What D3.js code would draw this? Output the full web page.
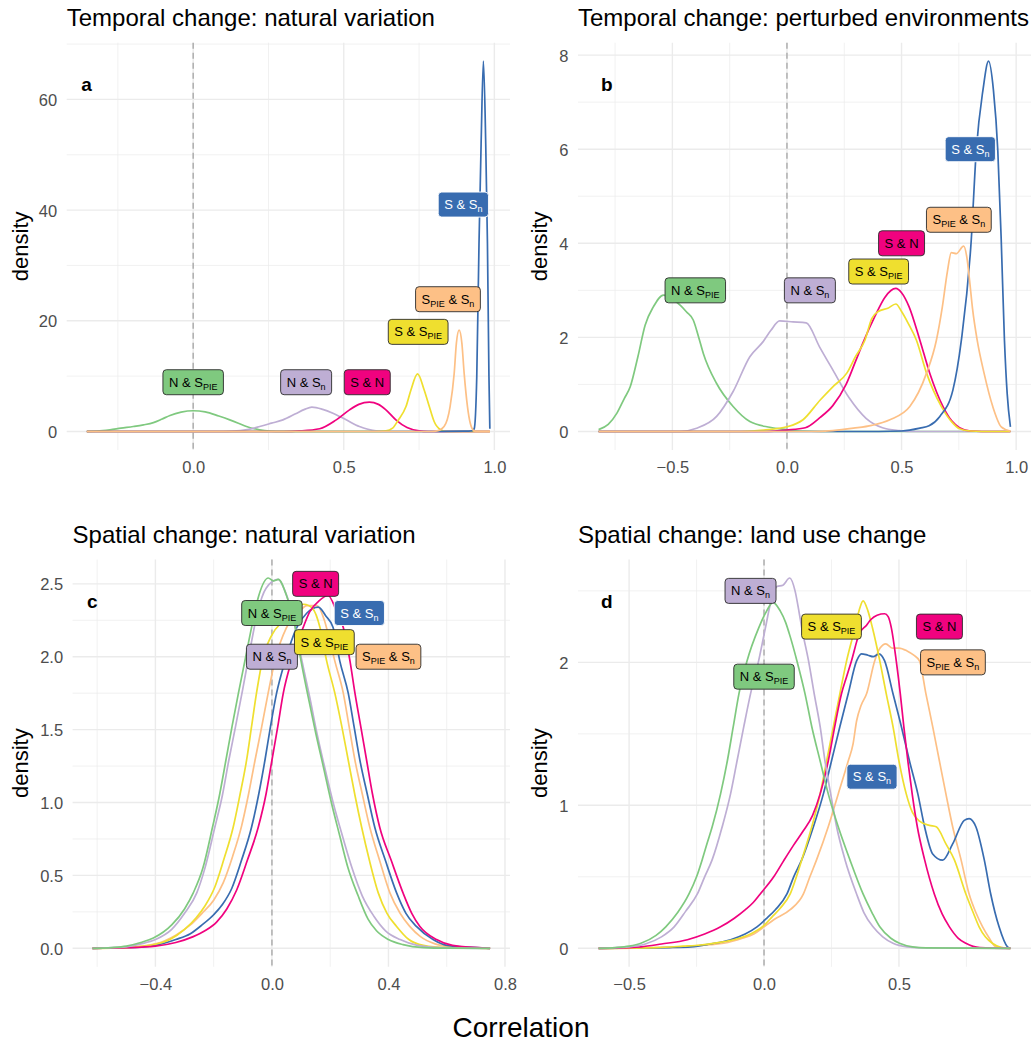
<!DOCTYPE html>
<html>
<head>
<meta charset="utf-8">
<script src="https://cdn.jsdelivr.net/npm/d3@7"></script>
<style>
  body { margin: 0; background: #fff; }
  svg text { font-family: "Liberation Sans", Arial, Helvetica, sans-serif; }
</style>
</head>
<body>
<svg id="fig" width="1032" height="1045"></svg>
<script>
// ---- series (pairs of diversity metrics); "_X" marks a subscript ----
const seriesKeys   = ["N & S_PIE", "N & S_n", "S & N", "S & S_PIE", "S & S_n", "S_PIE & S_n"];
const seriesColors = ["#7FC97F", "#BEAED4", "#F0027F", "#EFDF2F", "#386CB0", "#FDC086"];
const labelInk     = ["#000", "#000", "#000", "#000", "#fff", "#000"];

const panelTitles  = ["Temporal change: natural variation", "Temporal change: perturbed environments",
                      "Spatial change: natural variation", "Spatial change: land use change"];
const panelLetters = ["a", "b", "c", "d"];

// ---- panel a: density of correlations ----
const a_NSpie = [[-0.353,0.02],[-0.30,0.15],[-0.276,0.3],[-0.24,0.6],[-0.199,0.9],[-0.165,1.2],[-0.132,1.6],[-0.105,2.2],[-0.077,2.9],[-0.04,3.5],[0.0,3.75],[0.04,3.55],[0.085,2.8],[0.1215,2.1],[0.15,1.5],[0.177,0.9],[0.22,0.3],[0.254,0.08],[0.30,0.01],[0.40,0],[0.985,0]];
const a_NSn   = [[-0.353,0],[0.10,0],[0.132,0.05],[0.18,0.35],[0.221,0.9],[0.26,1.5],[0.298,2.1],[0.34,3.2],[0.37,4.0],[0.394,4.4],[0.43,4.0],[0.464,3.3],[0.508,2.1],[0.552,0.9],[0.58,0.4],[0.607,0.1],[0.65,0],[0.985,0]];
const a_SN    = [[-0.353,0],[0.30,0],[0.353,0.1],[0.42,0.5],[0.475,2.1],[0.519,3.9],[0.55,4.9],[0.585,5.3],[0.615,4.9],[0.64,3.9],[0.673,2.1],[0.71,0.7],[0.75,0.1],[0.78,0],[0.985,0]];
const a_SSpie = [[-0.353,0],[0.60,0],[0.64,0.1],[0.662,0.6],[0.68,2.0],[0.7066,4.5],[0.723,7.5],[0.745,10.4],[0.767,7.5],[0.784,4.5],[0.80,1.8],[0.822,0.3],[0.84,0],[0.985,0]];
const a_SSn   = [[-0.353,0],[0.80,0],[0.90,0.05],[0.925,0.1],[0.933,0.5],[0.9416,10],[0.949,34],[0.956,52],[0.9636,66.9],[0.9713,52],[0.977,34],[0.982,10],[0.985,0.5]];
const a_SpieSn= [[-0.353,0],[0.79,0],[0.81,0.1],[0.833,0.9],[0.853,4.5],[0.8666,10.5],[0.874,16],[0.883,18.3],[0.892,16],[0.8997,10.5],[0.9107,4.5],[0.92,1.5],[0.933,0.1],[0.94,0],[0.985,0]];
const a_labelX = [0.0, 0.375, 0.578, 0.747, 0.897, 0.846];
const a_labelY = [8.9, 8.9, 8.9, 18.0, 41.0, 23.9];
const a_xTicks = [0, 0.5, 1.0];
const a_yTicks = [0, 20, 40, 60];

// ---- panel b ----
const b_NSpie = [[-0.822,0.04],[-0.78,0.15],[-0.742,0.39],[-0.71,0.7],[-0.684,0.95],[-0.65,1.6],[-0.619,2.26],[-0.583,2.65],[-0.539,2.9],[-0.496,2.8],[-0.465,2.68],[-0.438,2.54],[-0.409,2.37],[-0.385,2.0],[-0.365,1.66],[-0.307,1.02],[-0.235,0.53],[-0.162,0.21],[-0.075,0.09],[0.0,0.04],[0.055,0.01],[0.15,0],[0.975,0]];
const b_NSn   = [[-0.822,0],[-0.467,0],[-0.394,0.07],[-0.307,0.32],[-0.235,0.85],[-0.162,1.59],[-0.104,1.91],[-0.07,2.15],[-0.032,2.35],[0.026,2.33],[0.084,2.31],[0.142,1.8],[0.2,1.31],[0.272,0.71],[0.345,0.28],[0.417,0.08],[0.49,0.02],[0.56,0],[0.975,0]];
const b_SN    = [[-0.822,0],[-0.10,0],[0.0,0.03],[0.08,0.08],[0.145,0.3],[0.20,0.55],[0.258,1.0],[0.30,1.5],[0.333,1.9],[0.384,2.45],[0.427,2.85],[0.475,3.04],[0.50,2.95],[0.533,2.65],[0.58,1.94],[0.623,1.24],[0.681,0.53],[0.72,0.22],[0.753,0.08],[0.80,0.01],[0.85,0],[0.975,0]];
const b_SSpie = [[-0.822,0],[-0.20,0],[-0.10,0.03],[0.0,0.1],[0.07,0.25],[0.145,0.67],[0.20,0.95],[0.261,1.24],[0.30,1.6],[0.34,1.94],[0.37,2.4],[0.398,2.55],[0.44,2.62],[0.475,2.71],[0.50,2.55],[0.529,2.3],[0.565,1.94],[0.609,1.24],[0.674,0.53],[0.72,0.2],[0.753,0.06],[0.80,0.01],[0.85,0],[0.975,0]];
const b_SSn   = [[-0.822,0],[0.40,0],[0.50,0.01],[0.58,0.07],[0.62,0.12],[0.667,0.32],[0.724,0.88],[0.761,1.94],[0.804,4.06],[0.826,5.97],[0.855,7.25],[0.8796,7.87],[0.901,7.25],[0.92,5.97],[0.935,4.06],[0.949,1.94],[0.961,0.8],[0.975,0.1]];
const b_SpieSn= [[-0.822,0],[0.10,0],[0.20,0.02],[0.29,0.07],[0.37,0.13],[0.449,0.25],[0.536,0.53],[0.609,1.24],[0.652,1.94],[0.678,2.65],[0.70,3.4],[0.717,3.8],[0.739,3.78],[0.771,3.94],[0.785,3.7],[0.797,3.2],[0.81,2.6],[0.83,1.94],[0.86,1.24],[0.898,0.53],[0.935,0.1],[0.975,0.01]];
const b_labelX = [-0.40, 0.10, 0.50, 0.40, 0.80, 0.75];
const b_labelY = [3.0, 3.0, 4.0, 3.4, 6.0, 4.5];
const b_xTicks = [-0.5, 0, 0.5, 1.0];
const b_yTicks = [0, 2, 4, 6, 8];

// ---- panel c ----
const c_NSpie = [[-0.616,0],[-0.55,0.005],[-0.50,0.015],[-0.45,0.04],[-0.407,0.07],[-0.344,0.16],[-0.30,0.27],[-0.27,0.38],[-0.237,0.55],[-0.204,0.83],[-0.18,1.05],[-0.158,1.29],[-0.137,1.52],[-0.115,1.75],[-0.09,2.0],[-0.07,2.2],[-0.045,2.42],[-0.0126,2.54],[0.005,2.52],[0.0217,2.53],[0.05,2.42],[0.08,2.2],[0.10,1.97],[0.125,1.72],[0.15,1.48],[0.176,1.25],[0.204,1.0],[0.233,0.77],[0.26,0.56],[0.296,0.36],[0.33,0.2],[0.359,0.12],[0.40,0.06],[0.45,0.025],[0.52,0.005],[0.60,0.001],[0.749,0]];
const c_NSn   = [[-0.616,0],[-0.50,0.01],[-0.45,0.03],[-0.40,0.06],[-0.344,0.13],[-0.30,0.24],[-0.258,0.38],[-0.23,0.55],[-0.196,0.83],[-0.17,1.05],[-0.148,1.29],[-0.125,1.52],[-0.10,1.78],[-0.075,2.05],[-0.05,2.3],[-0.02,2.47],[0.022,2.53],[0.045,2.45],[0.075,2.25],[0.10,2.0],[0.13,1.72],[0.155,1.47],[0.18,1.25],[0.21,1.0],[0.245,0.75],[0.275,0.55],[0.31,0.36],[0.35,0.22],[0.39,0.12],[0.44,0.06],[0.50,0.02],[0.58,0.005],[0.749,0]];
const c_SN    = [[-0.616,0],[-0.50,0.004],[-0.40,0.015],[-0.33,0.04],[-0.27,0.08],[-0.23,0.12],[-0.19,0.18],[-0.155,0.27],[-0.121,0.4],[-0.085,0.6],[-0.047,0.83],[-0.02,1.06],[0.0,1.29],[0.02,1.52],[0.039,1.75],[0.067,1.97],[0.107,2.2],[0.13,2.31],[0.16,2.38],[0.193,2.42],[0.222,2.31],[0.245,2.2],[0.268,1.97],[0.285,1.75],[0.305,1.52],[0.325,1.29],[0.345,1.06],[0.37,0.83],[0.41,0.6],[0.45,0.38],[0.48,0.24],[0.508,0.15],[0.565,0.06],[0.62,0.02],[0.749,0]];
const c_SSpie = [[-0.616,0],[-0.50,0.005],[-0.42,0.02],[-0.35,0.06],[-0.30,0.13],[-0.26,0.21],[-0.23,0.29],[-0.196,0.42],[-0.165,0.61],[-0.133,0.83],[-0.11,1.05],[-0.087,1.29],[-0.07,1.52],[-0.053,1.75],[-0.03,2.0],[0.0,2.15],[0.04,2.25],[0.08,2.33],[0.11,2.36],[0.14,2.33],[0.165,2.2],[0.188,1.97],[0.216,1.75],[0.24,1.52],[0.262,1.29],[0.285,1.05],[0.308,0.83],[0.335,0.6],[0.365,0.38],[0.395,0.24],[0.428,0.15],[0.47,0.06],[0.52,0.02],[0.60,0.004],[0.749,0]];
const c_SSn   = [[-0.616,0],[-0.50,0.004],[-0.40,0.02],[-0.33,0.06],[-0.28,0.1],[-0.24,0.16],[-0.20,0.23],[-0.17,0.3],[-0.138,0.41],[-0.105,0.6],[-0.07,0.83],[-0.045,1.06],[-0.024,1.29],[-0.005,1.52],[0.016,1.75],[0.045,1.97],[0.085,2.2],[0.12,2.3],[0.159,2.34],[0.185,2.28],[0.21,2.2],[0.233,1.97],[0.262,1.75],[0.282,1.52],[0.302,1.29],[0.327,1.06],[0.353,0.83],[0.39,0.6],[0.428,0.38],[0.46,0.24],[0.496,0.15],[0.553,0.06],[0.60,0.02],[0.749,0]];
const c_SpieSn= [[-0.616,0],[-0.50,0.005],[-0.40,0.03],[-0.33,0.09],[-0.28,0.16],[-0.24,0.24],[-0.20,0.33],[-0.167,0.45],[-0.135,0.63],[-0.104,0.84],[-0.08,1.06],[-0.058,1.29],[-0.035,1.52],[-0.013,1.75],[0.01,1.97],[0.05,2.2],[0.09,2.3],[0.12,2.35],[0.155,2.35],[0.18,2.25],[0.20,2.1],[0.216,1.97],[0.245,1.75],[0.265,1.52],[0.285,1.29],[0.31,1.06],[0.336,0.83],[0.37,0.6],[0.405,0.38],[0.44,0.24],[0.473,0.15],[0.51,0.08],[0.56,0.03],[0.62,0.01],[0.749,0]];
const c_labelX = [0.0, 0.0, 0.15, 0.18, 0.30, 0.40];
const c_labelY = [2.3, 2.0, 2.5, 2.1, 2.3, 2.0];
const c_xTicks = [-0.4, 0, 0.4, 0.8];
const c_yTicks = [0, 0.5, 1.0, 1.5, 2.0, 2.5];

// ---- panel d ----
const d_NSpie = [[-0.613,0],[-0.55,0.005],[-0.50,0.015],[-0.456,0.035],[-0.40,0.09],[-0.364,0.15],[-0.32,0.25],[-0.278,0.38],[-0.25,0.5],[-0.229,0.62],[-0.21,0.74],[-0.192,0.85],[-0.161,1.08],[-0.136,1.31],[-0.114,1.55],[-0.093,1.78],[-0.063,2.01],[-0.02,2.24],[0.01,2.36],[0.033,2.42],[0.06,2.36],[0.08,2.28],[0.097,2.18],[0.122,2.01],[0.152,1.78],[0.177,1.55],[0.208,1.31],[0.238,1.08],[0.275,0.85],[0.318,0.62],[0.367,0.38],[0.40,0.25],[0.429,0.15],[0.47,0.07],[0.502,0.035],[0.55,0.01],[0.60,0.003],[0.913,0]];
const d_NSn   = [[-0.613,0],[-0.50,0.01],[-0.44,0.03],[-0.38,0.08],[-0.333,0.15],[-0.29,0.26],[-0.247,0.38],[-0.22,0.5],[-0.192,0.62],[-0.155,0.85],[-0.124,1.08],[-0.1,1.31],[-0.075,1.55],[-0.05,1.78],[-0.02,2.01],[0.005,2.24],[0.025,2.42],[0.048,2.53],[0.07,2.54],[0.095,2.59],[0.115,2.5],[0.13,2.35],[0.14,2.24],[0.165,2.01],[0.186,1.78],[0.208,1.55],[0.226,1.31],[0.247,1.08],[0.269,0.85],[0.3,0.62],[0.343,0.38],[0.37,0.25],[0.404,0.15],[0.44,0.08],[0.478,0.035],[0.53,0.01],[0.60,0.002],[0.913,0]];
const d_SN    = [[-0.613,0],[-0.50,0.005],[-0.456,0.01],[-0.38,0.03],[-0.284,0.06],[-0.22,0.1],[-0.161,0.15],[-0.11,0.21],[-0.069,0.27],[-0.04,0.32],[-0.014,0.38],[0.036,0.5],[0.072,0.61],[0.109,0.72],[0.145,0.82],[0.18,0.93],[0.208,1.08],[0.238,1.31],[0.262,1.55],[0.287,1.78],[0.306,1.9],[0.324,2.01],[0.353,2.2],[0.38,2.26],[0.396,2.3],[0.419,2.33],[0.447,2.34],[0.46,2.32],[0.472,2.24],[0.49,2.01],[0.505,1.78],[0.518,1.55],[0.533,1.31],[0.549,1.08],[0.568,0.85],[0.595,0.62],[0.631,0.38],[0.66,0.24],[0.687,0.15],[0.72,0.07],[0.748,0.035],[0.80,0.005],[0.913,0]];
const d_SSpie = [[-0.613,0],[-0.40,0.005],[-0.30,0.015],[-0.235,0.023],[-0.17,0.04],[-0.112,0.06],[-0.05,0.1],[0.0,0.16],[0.03,0.22],[0.06,0.28],[0.097,0.38],[0.12,0.5],[0.14,0.62],[0.177,0.85],[0.208,1.08],[0.232,1.31],[0.257,1.55],[0.281,1.78],[0.306,2.01],[0.337,2.24],[0.355,2.38],[0.367,2.43],[0.385,2.36],[0.402,2.24],[0.429,2.01],[0.453,1.78],[0.478,1.55],[0.5,1.31],[0.527,1.08],[0.55,0.95],[0.576,0.89],[0.613,0.86],[0.638,0.85],[0.674,0.73],[0.705,0.62],[0.748,0.38],[0.775,0.25],[0.797,0.15],[0.82,0.08],[0.846,0.035],[0.88,0.005],[0.913,0]];
const d_SSn   = [[-0.613,0],[-0.45,0.003],[-0.35,0.005],[-0.27,0.01],[-0.2,0.03],[-0.124,0.06],[-0.07,0.1],[-0.026,0.15],[0.01,0.21],[0.042,0.27],[0.085,0.38],[0.11,0.5],[0.14,0.62],[0.183,0.85],[0.22,1.08],[0.25,1.31],[0.281,1.55],[0.312,1.78],[0.343,2.01],[0.361,2.06],[0.385,2.05],[0.405,2.04],[0.426,2.06],[0.447,2.01],[0.478,1.78],[0.509,1.55],[0.539,1.31],[0.57,1.08],[0.595,0.85],[0.625,0.66],[0.662,0.616],[0.699,0.73],[0.742,0.895],[0.76,0.907],[0.785,0.85],[0.816,0.62],[0.84,0.38],[0.871,0.15],[0.902,0.01],[0.913,0]];
const d_SpieSn= [[-0.613,0],[-0.40,0.005],[-0.30,0.01],[-0.2,0.025],[-0.149,0.035],[-0.08,0.07],[-0.038,0.1],[0.0,0.15],[0.036,0.2],[0.097,0.27],[0.146,0.38],[0.17,0.5],[0.195,0.62],[0.238,0.85],[0.275,1.08],[0.312,1.31],[0.33,1.43],[0.343,1.59],[0.36,1.7],[0.38,1.78],[0.41,2.01],[0.43,2.1],[0.451,2.13],[0.475,2.1],[0.5,2.1],[0.53,2.08],[0.555,2.05],[0.576,2.01],[0.6,1.78],[0.625,1.55],[0.65,1.31],[0.674,1.08],[0.699,0.85],[0.73,0.62],[0.76,0.38],[0.785,0.25],[0.81,0.15],[0.835,0.07],[0.859,0.01],[0.913,0]];
const d_labelX = [0.0, -0.05, 0.65, 0.25, 0.40, 0.70];
const d_labelY = [1.9, 2.5, 2.25, 2.25, 1.2, 2.0];
const d_xTicks = [-0.5, 0, 0.5];
const d_yTicks = [0, 1, 2];

// ---- assemble panels ----
const panels = [
  { curves: [a_NSpie, a_NSn, a_SN, a_SSpie, a_SSn, a_SpieSn], lx: a_labelX, ly: a_labelY, xt: a_xTicks, yt: a_yTicks,
    order: [0,1,2,3,4,5], xFmt: ".1f", yFmt: "d",   box: { x0: 66.7, x1: 510,  y0: 42.7,  y1: 450 } },
  { curves: [b_NSpie, b_NSn, b_SN, b_SSpie, b_SSn, b_SpieSn], lx: b_labelX, ly: b_labelY, xt: b_xTicks, yt: b_yTicks,
    order: [0,1,2,3,4,5], xFmt: ".1f", yFmt: "d",   box: { x0: 578,  x1: 1031, y0: 42.7,  y1: 450 } },
  { curves: [c_NSpie, c_NSn, c_SN, c_SSpie, c_SSn, c_SpieSn], lx: c_labelX, ly: c_labelY, xt: c_xTicks, yt: c_yTicks,
    order: [5,4,3,2,1,0], xFmt: ".1f", yFmt: ".1f", box: { x0: 72.6, x1: 510,  y0: 559.5, y1: 966.8 } },
  { curves: [d_NSpie, d_NSn, d_SN, d_SSpie, d_SSn, d_SpieSn], lx: d_labelX, ly: d_labelY, xt: d_xTicks, yt: d_yTicks,
    order: [5,4,3,2,1,0], xFmt: ".1f", yFmt: "d",   box: { x0: 578,  x1: 1031, y0: 559.5, y1: 966.8 } }
];

const svg = d3.select("#fig");
svg.append("rect").attr("width", 1032).attr("height", 1045).attr("fill", "#fff");

function expand(lo, hi, f) { const d = (hi - lo) * f; return [lo - d, hi + d]; }
function midpoints(ticks, dom) {
  const step = ticks[1] - ticks[0];
  const out = [];
  for (let v = ticks[0] - step / 2; v <= dom[1] + 1e-9; v += step) if (v >= dom[0] - 1e-9) out.push(v);
  return out;
}

panels.forEach((p, pi) => {
  const b = p.box;
  const allPts = p.curves.flat();
  const xDom = expand(d3.min(allPts, d => d[0]), d3.max(allPts, d => d[0]), 0.05);
  const yMax = d3.max(allPts, d => d[1]);
  const yDom = [-0.05 * yMax, 1.05 * yMax];
  const x = d3.scaleLinear().domain(xDom).range([b.x0, b.x1]);
  const y = d3.scaleLinear().domain(yDom).range([b.y1, b.y0]);
  const g = svg.append("g");

  // grid: minor then major
  const grid = g.append("g");
  midpoints(p.xt, xDom).forEach(v => grid.append("line")
    .attr("x1", x(v)).attr("x2", x(v)).attr("y1", b.y0).attr("y2", b.y1)
    .attr("stroke", "#ebebeb").attr("stroke-width", 0.7));
  midpoints(p.yt, yDom).forEach(v => grid.append("line")
    .attr("x1", b.x0).attr("x2", b.x1).attr("y1", y(v)).attr("y2", y(v))
    .attr("stroke", "#ebebeb").attr("stroke-width", 0.7));
  p.xt.forEach(v => grid.append("line")
    .attr("x1", x(v)).attr("x2", x(v)).attr("y1", b.y0).attr("y2", b.y1)
    .attr("stroke", "#ebebeb").attr("stroke-width", 1.4));
  p.yt.forEach(v => grid.append("line")
    .attr("x1", b.x0).attr("x2", b.x1).attr("y1", y(v)).attr("y2", y(v))
    .attr("stroke", "#ebebeb").attr("stroke-width", 1.4));

  // axes (text only, no domain lines or ticks)
  const xAxis = d3.axisBottom(x).tickValues(p.xt).tickFormat(d3.format(p.xFmt)).tickSize(0).tickPadding(0);
  const xg = g.append("g").attr("transform", `translate(0,${b.y1})`).call(xAxis);
  xg.select(".domain").remove();
  xg.selectAll("text").attr("dy", null).attr("y", 23.3).attr("font-size", 16.5)
    .attr("fill", "#4d4d4d").attr("font-family", null);

  const yAxis = d3.axisLeft(y).tickValues(p.yt).tickFormat(d3.format(p.yFmt)).tickSize(0).tickPadding(0);
  const yg = g.append("g").attr("transform", `translate(${b.x0 - 9.5},0)`).call(yAxis);
  yg.select(".domain").remove();
  yg.selectAll("text").attr("dy", "0.36em").attr("x", 0).attr("font-size", 16.5)
    .attr("fill", "#4d4d4d").attr("font-family", null);

  // zero reference line
  g.append("line").attr("x1", x(0)).attr("x2", x(0)).attr("y1", b.y0).attr("y2", b.y1)
    .attr("stroke", "#aaaaaa").attr("stroke-width", 1.4).attr("stroke-dasharray", "6,4");

  // density curves
  const line = d3.line().x(d => x(d[0])).y(d => y(d[1])).curve(d3.curveMonotoneX);
  p.order.forEach(si => {
    g.append("path").datum(p.curves[si]).attr("d", line)
      .attr("fill", "none").attr("stroke", seriesColors[si]).attr("stroke-width", 1.7)
      .attr("stroke-linejoin", "round");
  });

  // series labels
  seriesKeys.forEach((key, si) => {
    const cx = x(p.lx[si]), cy = y(p.ly[si]);
    const lg = g.append("g");
    const rect = lg.append("rect");
    const t = lg.append("text").attr("font-size", 13).attr("fill", labelInk[si])
      .attr("x", 0).attr("y", 0);
    const parts = key.split(/_(PIE|n)/);
    let shifted = false;
    parts.forEach((txt, k) => {
      if (!txt) return;
      const sub = k % 2 === 1;
      const ts = t.append("tspan").text(txt);
      if (sub) { ts.attr("font-size", 9).attr("dy", shifted ? 0 : 3); shifted = true; }
      else if (shifted) { ts.attr("dy", -3); shifted = false; }
    });
    const w = t.node().getComputedTextLength();
    const bw = w + 12, bh = 25;
    t.attr("x", cx - w / 2).attr("y", cy + 4.6);
    rect.attr("x", cx - bw / 2).attr("y", cy - bh / 2).attr("width", bw).attr("height", bh)
      .attr("rx", 3.5).attr("fill", seriesColors[si])
      .attr("stroke", si === 4 ? "#ffffff" : "#2b2b2b").attr("stroke-width", 0.9);
  });

  // panel letter
  g.append("text").attr("x", b.x0 + (pi % 2 === 0 ? 14.5 : 23)).attr("y", b.y0 + 48)
    .attr("font-size", 19).attr("font-weight", "bold").attr("fill", "#000").text(panelLetters[pi]);

  // title
  g.append("text").attr("x", b.x0).attr("y", b.y0 - 16.7).attr("font-size", 24)
    .attr("fill", "#000").text(panelTitles[pi]);

  // y-axis title
  const yTitleX = pi % 2 === 0 ? 27.5 : 547;
  g.append("text").attr("transform", `translate(${yTitleX},${(b.y0 + b.y1) / 2}) rotate(-90)`)
    .attr("text-anchor", "middle").attr("font-size", 22).attr("fill", "#000").text("density");
});

// shared x-axis title
svg.append("text").attr("x", 521).attr("y", 1037).attr("text-anchor", "middle")
  .attr("font-size", 28).attr("fill", "#000").text("Correlation");
</script>
</body>
</html>
